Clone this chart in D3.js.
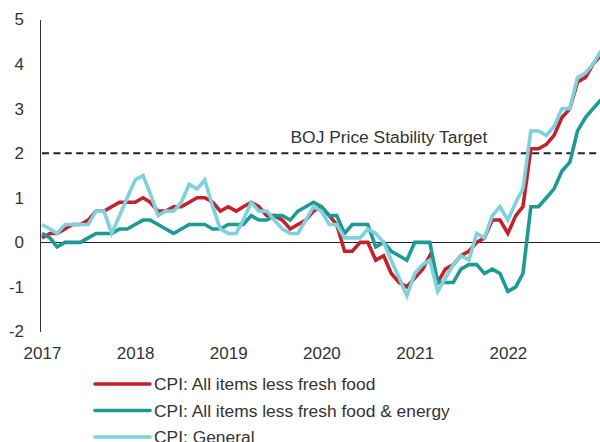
<!DOCTYPE html>
<html>
<head>
<meta charset="utf-8">
<script src="https://d3js.org/d3.v7.min.js"></script>
<style>
  html, body { margin: 0; padding: 0; background: #fff; }
  svg { display: block; font-family: "Liberation Sans", Arial, sans-serif; }
  .tick text { fill: #333; font-size: 17px; }
</style>
</head>
<body>
<div id="chart"></div>
<script>
// Japan CPI, y/y % change, monthly Jan 2017 - Jan 2023
var startMonth = new Date(2017, 0, 1);

var coreCpi = [
  0.1, 0.2, 0.2, 0.3, 0.4, 0.4, 0.5, 0.7, 0.7, 0.8, 0.9, 0.9,
  0.9, 1.0, 0.9, 0.7, 0.7, 0.8, 0.8, 0.9, 1.0, 1.0, 0.9, 0.7,
  0.8, 0.7, 0.8, 0.9, 0.8, 0.6, 0.6, 0.5, 0.3, 0.4, 0.5, 0.7,
  0.8, 0.6, 0.4, -0.2, -0.2, 0.0, 0.0, -0.4, -0.3, -0.7, -0.9, -1.0,
  -0.8, -0.6, -0.3, -0.9, -0.6, -0.5, -0.3, -0.2, 0.0, 0.1, 0.5, 0.5,
  0.2, 0.6, 0.8, 2.1, 2.1, 2.2, 2.4, 2.8, 3.0, 3.6, 3.7, 4.0,
  4.2
];

var coreCoreCpi = [
  0.2, 0.1, -0.1, 0.0, 0.0, 0.0, 0.1, 0.2, 0.2, 0.2, 0.3, 0.3,
  0.4, 0.5, 0.5, 0.4, 0.3, 0.2, 0.3, 0.4, 0.4, 0.4, 0.3, 0.3,
  0.4, 0.4, 0.4, 0.6, 0.5, 0.5, 0.6, 0.6, 0.5, 0.7, 0.8, 0.9,
  0.8, 0.6, 0.6, 0.2, 0.4, 0.4, 0.4, -0.1, 0.0, -0.2, -0.3, -0.4,
  0.0, 0.0, 0.0, -0.9, -0.9, -0.9, -0.6, -0.5, -0.5, -0.7, -0.6, -0.7,
  -1.1, -1.0, -0.7, 0.8, 0.8, 1.0, 1.2, 1.6, 1.8, 2.5, 2.8, 3.0,
  3.2
];

var generalCpi = [
  0.4, 0.3, 0.2, 0.4, 0.4, 0.4, 0.4, 0.7, 0.7, 0.2, 0.6, 1.0,
  1.4, 1.5, 1.1, 0.6, 0.7, 0.7, 0.9, 1.3, 1.2, 1.4, 0.8, 0.3,
  0.2, 0.2, 0.5, 0.9, 0.7, 0.7, 0.5, 0.3, 0.2, 0.2, 0.5, 0.8,
  0.7, 0.4, 0.4, 0.1, 0.1, 0.1, 0.3, 0.2, 0.0, -0.4, -0.8, -1.2,
  -0.7, -0.5, -0.4, -1.1, -0.8, -0.5, -0.3, -0.4, 0.2, 0.1, 0.6, 0.8,
  0.5, 0.9, 1.2, 2.5, 2.5, 2.4, 2.6, 3.0, 3.0, 3.7, 3.8, 4.0,
  4.3
];

var seriesNames = [
  'CPI: All items less fresh food',
  'CPI: All items less fresh food & energy',
  'CPI: General'
];
var seriesColors = ['#c3222b', '#1d9a93', '#7fd1dc'];
var seriesValues = [coreCpi, coreCoreCpi, generalCpi];

var yTicks = [-2, -1, 0, 1, 2, 3, 4, 5];
var xYears = [2017, 2018, 2019, 2020, 2021, 2022];
var targetValue = 2;
var targetLabel = 'BOJ Price Stability Target';

// --- Layout ---
var width = 600, height = 442;
var axisX = 40;

var svg = d3.select('#chart').append('svg')
  .attr('width', width)
  .attr('height', height);

var x = d3.scaleTime()
  .domain([startMonth, d3.timeMonth.offset(startMonth, 72)])
  .range([42, 601]);

var y = d3.scaleLinear()
  .domain([-2, 5])
  .range([331.5, 19.5]);

function monthDate(i) { return d3.timeMonth.offset(startMonth, i); }

// Y axis
var yAxis = svg.append('g')
  .attr('transform', 'translate(' + axisX + ',0)')
  .call(d3.axisLeft(y)
    .tickValues(yTicks)
    .tickFormat(function(d) { return String(d); })
    .tickSize(0).tickPadding(16).tickSizeOuter(0));
yAxis.select('.domain').attr('stroke', '#333').attr('stroke-width', 1);

// X axis labels (no line)
var xAxis = svg.append('g')
  .attr('transform', 'translate(0,' + y(-2) + ')')
  .call(d3.axisBottom(x)
    .tickValues(xYears.map(function(yr) { return new Date(yr, 0, 1); }))
    .tickFormat(d3.timeFormat('%Y'))
    .tickSize(0).tickPadding(15));
xAxis.select('.domain').remove();

// Zero line
svg.append('line')
  .attr('x1', axisX).attr('x2', width)
  .attr('y1', Math.round(y(0)) + 0.5).attr('y2', Math.round(y(0)) + 0.5)
  .attr('stroke', '#222').attr('stroke-width', 1);

// Target line
svg.append('line')
  .attr('x1', axisX + 2).attr('x2', width)
  .attr('y1', y(targetValue)).attr('y2', y(targetValue))
  .attr('stroke', '#222').attr('stroke-width', 2)
  .attr('stroke-dasharray', '7,4.4');

svg.append('text')
  .attr('x', 290.5).attr('y', y(targetValue) - 10)
  .attr('fill', '#333')
  .style('font-size', '17.4px')
  .text(targetLabel);

// Series lines
var line = d3.line()
  .x(function(d, i) { return x(monthDate(i)); })
  .y(function(d) { return y(d); });

seriesValues.forEach(function(vals, k) {
  svg.append('path')
    .datum(vals)
    .attr('fill', 'none')
    .attr('stroke', seriesColors[k])
    .attr('stroke-width', 3.6)
    .attr('stroke-linejoin', 'miter')
    .attr('d', line);
});

// Legend
var legend = svg.append('g');
seriesNames.forEach(function(name, k) {
  var ly = 384 + k * 26.5;
  legend.append('line')
    .attr('x1', 95).attr('x2', 150)
    .attr('y1', ly).attr('y2', ly)
    .attr('stroke', seriesColors[k])
    .attr('stroke-width', 3.6)
    .attr('stroke-linecap', 'round');
  legend.append('text')
    .attr('x', 154).attr('y', ly + 6)
    .attr('fill', '#333')
    .style('font-size', '17.4px')
    .text(name);
});
</script>
</body>
</html>
